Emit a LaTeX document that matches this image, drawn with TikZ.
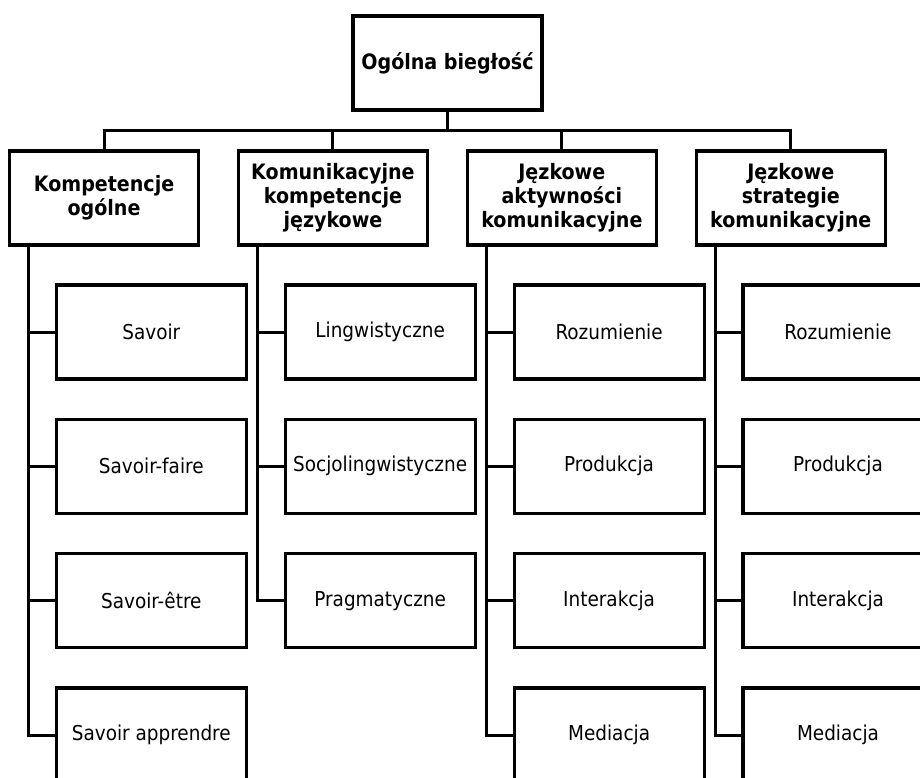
\documentclass[tikz,border=0pt]{standalone}
\usepackage{fontspec}
\setmainfont{DejaVuSansCondensed.ttf}[BoldFont=DejaVuSansCondensed-Bold.ttf]
\begin{document}
\begin{tikzpicture}[x=1pt,y=-1pt,
  box/.style={draw, line width=3.1pt, minimum width=190pt, minimum height=94pt,
    inner sep=0pt, outer sep=0pt, align=center,
    font=\fontsize{20.5}{23.5}\selectfont},
  head/.style={box, minimum width=189pt, font=\fontsize{21.2}{23.8}\selectfont\bfseries},
  link/.style={line width=3pt}]
\useasboundingbox (0,0) rectangle (920,777);
\clip (0,0) rectangle (920,777);

% root
\node[head] (top) at (447.5,63) {Ogólna biegłość};

% second level
\node[head] (h1) at (104.05,198) {Kompetencje\\ogólne};
\node[head] (h2) at (332.95,198) {Komunikacyjne\\kompetencje\\językowe};
\node[head] (h3) at (561.85,198) {Jęzkowe\\aktywności\\komunikacyjne};
\node[head] (h4) at (790.75,198) {Jęzkowe\\strategie\\komunikacyjne};

% column 1
\node[box] (k11) at (151.3,332)   {Savoir};
\node[box] (k12) at (151.3,466.3) {Savoir-faire};
\node[box] (k13) at (151.3,600.7) {Savoir-être};
\node[box] (k14) at (151.3,735)   {Savoir apprendre};

% column 2
\node[box] (k21) at (380.2,332)   {Lingwistyczne};
\node[box] (k22) at (380.2,466.3) {Socjolingwistyczne};
\node[box] (k23) at (380.2,600.7) {Pragmatyczne};

% column 3
\node[box] (k31) at (609.1,332)   {Rozumienie};
\node[box] (k32) at (609.1,466.3) {Produkcja};
\node[box] (k33) at (609.1,600.7) {Interakcja};
\node[box] (k34) at (609.1,735)   {Mediacja};

% column 4
\node[box] (k41) at (838,332)   {Rozumienie};
\node[box] (k42) at (838,466.3) {Produkcja};
\node[box] (k43) at (838,600.7) {Interakcja};
\node[box] (k44) at (838,735)   {Mediacja};

% bus between root and second level
\coordinate (bus) at (447.5,130.7);
\draw[link] (top.south) -- (bus);
\draw[link] (h1.north) |- (bus);
\draw[link] (h4.north) |- (bus);
\draw[link] (h2.north) -- (h2.north |- bus);
\draw[link] (h3.north) -- (h3.north |- bus);

% spines down the left of each column
\coordinate (v1) at ([xshift=19pt]h1.south west);
\coordinate (v2) at ([xshift=19pt]h2.south west);
\coordinate (v3) at ([xshift=19pt]h3.south west);
\coordinate (v4) at ([xshift=19pt]h4.south west);

\draw[link] (v1) |- (k14.west);
\draw[link] (k11.west) -- (k11.west -| v1);
\draw[link] (k12.west) -- (k12.west -| v1);
\draw[link] (k13.west) -- (k13.west -| v1);

\draw[link] (v2) |- (k23.west);
\draw[link] (k21.west) -- (k21.west -| v2);
\draw[link] (k22.west) -- (k22.west -| v2);

\draw[link] (v3) |- (k34.west);
\draw[link] (k31.west) -- (k31.west -| v3);
\draw[link] (k32.west) -- (k32.west -| v3);
\draw[link] (k33.west) -- (k33.west -| v3);

\draw[link] (v4) |- (k44.west);
\draw[link] (k41.west) -- (k41.west -| v4);
\draw[link] (k42.west) -- (k42.west -| v4);
\draw[link] (k43.west) -- (k43.west -| v4);
\end{tikzpicture}
\end{document}
